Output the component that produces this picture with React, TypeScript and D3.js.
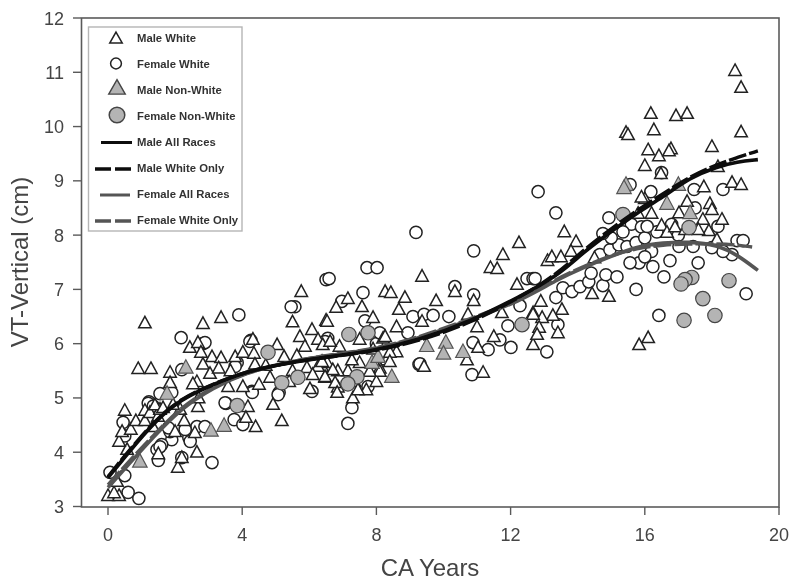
import React from "react";
import * as d3 from "d3";

type P = [number, number];

const maleWhite: P[] = [
[0,3.2],[0.33,3.2],[0.18,3.25],[0.27,3.46],[0.57,4.05],[0.33,4.2],[0.42,4.38],[0.68,4.42],[0.5,4.77],[0.83,4.58],[1.1,4.58],[1.1,4.77],[1.1,6.38],[0.9,5.54],[1.28,5.54],
[2.83,6.37],[3.37,6.48],[1.25,4.73],[1.49,4.66],[1.34,4.47],[1.55,4.79],[2.15,4.79],[2.27,4.58],[2.0,4.38],[2.59,4.36],[2.68,4.84],[1.5,3.97],[2.08,3.72],[2.2,3.9],[2.65,4.0],[1.4,4.87],[1.64,4.82],[1.94,4.88],[2.65,5.3],[2.7,5.0],
[1.85,5.47],[1.85,5.28],[2.53,5.26],[2.44,5.93],[2.68,6.02],[2.77,5.84],[3.1,5.76],[3.37,5.74],[2.83,5.62],[3.04,5.45],[3.58,5.21],[3.79,5.76],[4.02,5.84],[4.32,6.08],[4.35,5.82],[4.02,5.21],[4.5,5.25],[4.38,5.62],[4.83,5.38],[5.93,5.56],[6.38,5.58],
[4.17,4.84],[4.11,4.64],[4.4,4.47],[5.18,4.58],[4.92,4.88],[5.04,5.98],[5.25,5.76],[5.63,5.78],[5.72,6.13],[6.08,6.26],[6.26,6.08],[5.87,5.95],[6.5,6.43],[5.5,6.4],[5.76,6.96],[6.53,5.65],[6.26,5.58],[6.1,5.43],[6.47,5.38],[6.02,5.17],[5.5,5.5],[3.3,5.55],[3.65,5.5],[4.7,5.6],[5.4,5.3],
[6.53,6.41],[6.8,6.67],[7.15,6.83],[7.57,6.68],[7.9,6.48],[7.15,5.5],[6.85,5.5],[6.85,5.2],[7.3,5.0],[7.35,5.3],[7.7,5.15],[7.9,5.5],[8.2,6.1],[8.6,5.85],[8.3,5.7],[8.1,5.55],[7.9,5.9],[8.0,5.3],[8.26,6.13],[7.5,6.08],[6.4,5.98],[6.9,5.95],[6.62,6.04],[8.4,5.84],[8.4,5.67],[8.1,5.49],[6.7,5.52],[6.47,5.39],[6.77,5.28],[6.38,5.67],[7.5,5.65],[7.8,5.49],[7.45,5.15],[6.83,5.1],[7.27,5.7],
[8.26,6.96],[8.43,6.94],[8.85,6.85],[8.67,6.63],[8.6,6.31],[9.36,7.24],[9.36,6.41],[9.78,6.79],[9.42,5.58],[10.34,6.96],[10.9,6.79],[10.73,6.54],[11.0,6.31],[11.03,5.93],[10.7,5.7],[11.18,5.47],[11.5,6.13],[11.74,6.57],[12.67,6.57],[12.67,5.98],[12.19,7.09],
[12.25,7.86],[11.77,7.64],[11.4,7.4],[11.6,7.38],[12.9,6.78],[13.53,6.63],[13.26,6.52],[12.94,6.48],[12.67,6.54],[12.85,6.3],[13.41,6.2],[12.79,6.17],[13.6,8.06],[13.95,7.88],[13.8,7.7],[13.1,7.53],[13.23,7.6],[13.5,7.6],[14.5,7.58],[14.43,6.92],[14.93,6.87],
[15.44,9.89],[15.5,9.85],[16.18,10.24],[16.93,10.2],[17.26,10.24],[16.27,9.94],[18.69,11.03],[18.87,10.72],[18.87,9.9],[18.0,9.63],[16.1,9.57],[16.42,9.46],[16.78,9.59],[16.72,9.55],[16.0,9.28],[16.48,9.13],[18.18,9.26],[18.6,8.97],[18.87,8.93],[17.76,8.89],[16.0,8.67],[15.9,8.7],[17.26,8.62],[17.94,8.58],[17.02,8.41],[18.0,8.47],[18.3,8.29],[17.73,8.29],[16.5,8.18],[16.66,8.05],[17.91,8.08],[18.15,7.92],[16.1,6.11],[15.83,5.98],[16.9,8.15],[17.6,8.1],[17.2,8.1],[16.2,8.4],[15.8,8.4],
];

const femaleWhite: P[] = [
[0.06,3.63],[0.5,3.57],[0.6,3.26],[0.92,3.15],[0.45,4.55],[1.22,4.93],[1.55,5.08],[2.2,5.52],[2.18,6.11],[2.83,6.0],[3.9,6.53],[6.5,7.18],[5.57,6.68],[5.46,6.68],[3.1,3.81],[1.9,4.23],[1.6,4.14],[1.46,4.05],[2.41,4.27],[2.65,4.47],[1.85,4.38],[2.3,4.42],[3.76,4.6],[3.52,4.9],[3.49,4.91],[2.2,3.9],[4.02,4.51],[2.89,4.47],[3.85,5.65],[4.26,6.06],[4.29,5.12],[4.23,6.04],[2.89,6.02],[6.08,5.12],[5.1,5.1],
[1.2,4.9],[1.35,4.85],[1.9,5.1],[0.5,4.3],[1.55,4.1],[2.45,4.2],[1.5,3.85],[1.8,4.45],[3.79,5.58],[5.07,5.06],[4.3,5.1],
[6.59,7.2],[7.15,4.53],[7.27,4.82],[7.75,5.21],[6.97,6.78],[7.6,6.94],[7.72,7.4],[8.02,7.4],[7.66,6.42],[8.0,6.0],[6.55,6.1],[8.1,6.2],[8.94,6.2],[6.47,6.04],[9.27,5.62],[9.18,8.05],[10.9,7.71],[10.34,7.05],[10.9,6.9],[9.09,6.5],[9.42,6.54],[9.69,6.52],[10.16,6.5],[9.3,5.63],[10.85,5.43],[10.88,6.02],[11.33,5.89],[11.68,6.07],[12.01,5.93],[11.92,6.33],[12.28,6.7],[12.49,7.2],[12.67,7.2],[12.73,7.2],[12.82,8.8],[13.08,5.85],[13.41,6.35],
[13.35,8.41],[13.35,6.85],[13.56,7.03],[13.83,6.96],[14.07,7.05],[14.33,7.14],[14.75,7.07],[14.84,7.27],[15.17,7.23],[14.66,7.64],[14.96,7.73],[15.23,7.82],[15.47,7.79],[15.74,7.86],[15.83,7.49],[15.56,7.49],[16.24,7.42],[16.57,7.23],[16.75,7.53],[15.74,7.0],[16.42,6.52],[17.59,7.49],[19.02,6.92],[16.8,8.2],[17.0,8.0],[16.2,7.7],[15.0,7.95],[14.4,7.3],[16.0,7.6],[15.6,8.2],[15.9,8.15],
[14.93,8.32],[14.75,8.03],[15.56,8.93],[16.18,8.8],[16.5,9.15],[18.33,8.84],[18.75,7.9],[18.93,7.9],[18.6,7.64],[18.33,7.7],[18.0,7.77],[17.44,7.79],[17.02,7.79],[16.0,7.95],[16.36,8.06],[16.07,8.16],[15.35,8.06],[17.5,8.5],[17.47,8.84],[18.18,8.16],
];

const maleNonWhite: P[] = [
[0.95,3.83],[1.76,5.08],[2.32,5.56],[3.07,4.4],[3.46,4.49],[7.87,5.65],[8.05,5.76],[8.46,5.39],[9.5,5.96],[10.07,6.02],[10.0,5.82],[10.58,5.85],[15.44,8.93],[15.38,8.87],[17.0,8.93],[17.35,8.41],[16.66,8.58],
];

const femaleNonWhite: P[] = [
[3.85,4.86],[5.18,5.28],[5.66,5.38],[4.77,5.84],[7.18,6.17],[7.75,6.2],[7.42,5.39],[7.15,5.26],[12.34,6.35],[15.35,8.38],[17.32,8.14],[17.4,7.22],[17.2,7.18],[17.08,7.1],[18.51,7.16],[17.73,6.83],[18.09,6.52],[17.17,6.43],
];

const maleAllRaces: P[] = [[0,3.53],[0.45,3.87],[0.86,4.18],[1.46,4.6],[2.15,4.97],[3.13,5.25],[4.14,5.49],[5.13,5.62],[6.32,5.74],[7.8,5.85],[9.3,6.07],[10.8,6.41],[12.28,6.87],[13.38,7.24],[14.16,7.68],[14.96,8.05],[15.77,8.41],[16.54,8.7],[17.35,9.06],[18.15,9.26],[18.75,9.35],[19.37,9.39]];
const maleWhiteOnly: P[] = [[0,3.55],[0.45,3.9],[0.86,4.2],[1.46,4.62],[2.15,4.98],[3.13,5.26],[4.14,5.49],[5.13,5.62],[6.32,5.74],[7.8,5.84],[9.3,6.05],[10.8,6.38],[12.28,6.85],[13.38,7.28],[14.16,7.72],[14.96,8.1],[15.77,8.46],[16.54,8.76],[17.35,9.08],[18.15,9.3],[18.75,9.43],[19.37,9.55]];
const femaleAllRaces: P[] = [[0,3.35],[0.65,3.8],[1.34,4.27],[2.15,4.79],[3.13,5.19],[4.14,5.47],[5.13,5.62],[6.32,5.77],[7.8,5.87],[9.3,6.1],[10.8,6.44],[12.28,6.78],[13.38,7.18],[14.16,7.4],[14.96,7.6],[15.77,7.79],[16.54,7.86],[17.35,7.88],[18.15,7.82],[18.75,7.64],[19.37,7.35]];
const femaleWhiteOnly: P[] = [[0,3.4],[0.65,3.85],[1.34,4.3],[2.15,4.82],[3.13,5.21],[4.14,5.47],[5.13,5.62],[6.32,5.78],[7.8,5.88],[9.3,6.12],[10.8,6.46],[12.28,6.8],[13.38,7.2],[14.16,7.42],[14.96,7.62],[15.77,7.76],[16.54,7.82],[17.35,7.84],[18.15,7.84],[18.75,7.82],[19.2,7.78]];

const xTicks = [0, 4, 8, 12, 16, 20];
const yTicks = [3, 4, 5, 6, 7, 8, 9, 10, 11, 12];

const legendSymbols = ["Male White", "Female White", "Male Non-White", "Female Non-White"];
const legendLines = ["Male All Races", "Male White Only", "Female All Races", "Female White Only"];

const x = d3.scaleLinear().domain([0, 20]).range([108, 779]);
const y = d3.scaleLinear().domain([3, 12]).range([506.5, 18]);
const line = d3.line<P>().x(d => x(d[0])).y(d => y(d[1])).curve(d3.curveBasis);

const ink = "#222";
const axisCol = "#5a5a5a";
const labelCol = "#444";
const gray = "#b4b4b4";
const dark = "#0a0a0a";
const midGray = "#555";
const font = "'Liberation Sans', Arial, sans-serif";

const tri = (cx: number, cy: number, w: number, h: number) =>
  `M${cx},${cy - h * 0.58}L${cx + w / 2},${cy + h * 0.42}L${cx - w / 2},${cy + h * 0.42}Z`;

export default function App() {
  return (
    <svg width={800} height={588} style={{ position: "absolute", left: 0, top: 0, background: "#fff" }} fontFamily={font}>
      <defs>
        <filter id="soft" x="0" y="0" width="800" height="588" filterUnits="userSpaceOnUse">
          <feGaussianBlur stdDeviation="0.45" />
        </filter>
      </defs>
      <g filter="url(#soft)">
        <rect x={0} y={0} width={800} height={588} fill="#fff" />
        <rect x={81.5} y={18} width={697.5} height={489} fill="none" stroke={axisCol} strokeWidth={1.6} />
        {yTicks.map(t => (
          <g key={t}>
            <line x1={73} x2={81} y1={y(t)} y2={y(t)} stroke={axisCol} strokeWidth={1.4} />
            <text x={64} y={y(t) + 6.5} textAnchor="end" fontSize={18} fill={labelCol}>{t}</text>
          </g>
        ))}
        {xTicks.map(t => (
          <g key={t}>
            <line x1={x(t)} x2={x(t)} y1={507} y2={515} stroke={axisCol} strokeWidth={1.4} />
            <text x={x(t)} y={541} textAnchor="middle" fontSize={18} fill={labelCol}>{t}</text>
          </g>
        ))}
        <text x={430} y={576} textAnchor="middle" fontSize={24} fill={labelCol}>CA Years</text>
        <text transform="translate(28,262) rotate(-90)" textAnchor="middle" fontSize={24} fill={labelCol}>VT-Vertical (cm)</text>

        {femaleWhite.map((d, i) => (
          <circle key={i} cx={x(d[0])} cy={y(d[1])} r={6.1} fill="#fff" stroke={ink} strokeWidth={1.5} />
        ))}
        {maleWhite.map((d, i) => (
          <path key={i} d={tri(x(d[0]), y(d[1]), 12.5, 11.5)} fill="#fff" stroke={ink} strokeWidth={1.5} />
        ))}
        {femaleNonWhite.map((d, i) => (
          <circle key={i} cx={x(d[0])} cy={y(d[1])} r={7.2} fill={gray} stroke="#444" strokeWidth={1.2} />
        ))}
        {maleNonWhite.map((d, i) => (
          <path key={i} d={tri(x(d[0]), y(d[1]), 14.5, 13.5)} fill={gray} stroke="#555" strokeWidth={1.2} />
        ))}

        <path d={line(femaleAllRaces) ?? ""} fill="none" stroke={midGray} strokeWidth={3.6} />
        <path d={line(femaleWhiteOnly) ?? ""} fill="none" stroke={midGray} strokeWidth={3.4} strokeDasharray="18 3" />
        <path d={line(maleAllRaces) ?? ""} fill="none" stroke={dark} strokeWidth={3.6} />
        <path d={line(maleWhiteOnly) ?? ""} fill="none" stroke={dark} strokeWidth={3.4} strokeDasharray="18 3" />

        <rect x={88.5} y={27} width={153.5} height={204} fill="#fff" stroke="#b5b5b5" strokeWidth={1.4} />
        <path d={tri(116, 38.5, 12.5, 11)} fill="#fff" stroke={ink} strokeWidth={1.5} />
        <circle cx={116} cy={63.5} r={5.4} fill="#fff" stroke={ink} strokeWidth={1.5} />
        <path d={tri(117, 88, 16.5, 14.5)} fill={gray} stroke="#444" strokeWidth={1.4} />
        <circle cx={117} cy={115} r={7.8} fill={gray} stroke="#444" strokeWidth={1.5} />
        {legendSymbols.map((s, i) => (
          <text key={s} x={137} y={41.5 + i * 26} fontSize={11.3} fontWeight={700} fill="#333">{s}</text>
        ))}
        <line x1={101} x2={132} y1={142.5} y2={142.5} stroke={dark} strokeWidth={3} />
        <line x1={95} x2={132} y1={169} y2={169} stroke={dark} strokeWidth={3.5} strokeDasharray="16 4" />
        <line x1={100} x2={130} y1={195} y2={195} stroke={midGray} strokeWidth={3} />
        <line x1={95} x2={132} y1={221} y2={221} stroke={midGray} strokeWidth={3.5} strokeDasharray="16 4" />
        {legendLines.map((s, i) => (
          <text key={s} x={137} y={146 + i * 26} fontSize={11.3} fontWeight={700} fill="#333">{s}</text>
        ))}
      </g>
    </svg>
  );
}
